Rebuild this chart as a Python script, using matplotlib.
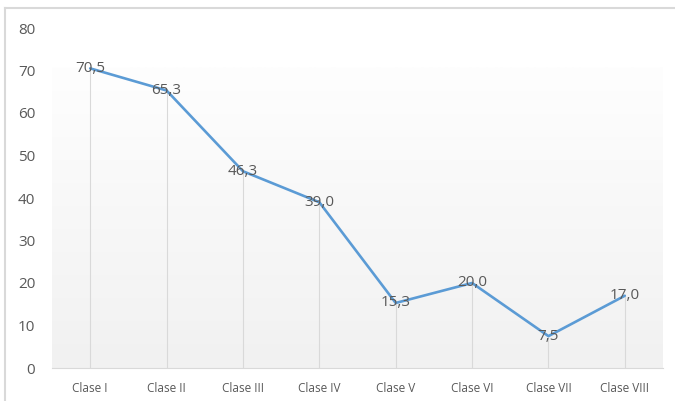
import matplotlib.pyplot as plt
import numpy as np
from matplotlib.colors import LinearSegmentedColormap

# Data
categories = ["Clase I", "Clase II", "Clase III", "Clase IV",
              "Clase V", "Clase VI", "Clase VII", "Clase VIII"]
values = [70.5, 65.3, 46.3, 39.0, 15.3, 20.0, 7.5, 17.0]
yticks = [0, 10, 20, 30, 40, 50, 60, 70, 80]

plt.rcParams["font.family"] = ["Open Sans", "DejaVu Sans"]

fig = plt.figure(figsize=(6.75, 4.01), dpi=100)
fig.patch.set_facecolor("white")
ax = fig.add_axes([52 / 675, 1 - 368 / 401, 611 / 675, 340 / 401])
ax.set_facecolor("none")

x = np.arange(len(categories))
ax.set_xlim(-0.5, len(categories) - 0.5)
ax.set_ylim(0, 80)

# plot area gradient (white top -> light grey bottom)
cmap = LinearSegmentedColormap.from_list("g", ["#f1f1f1", "#fefefe"])
grad = np.linspace(0, 1, 256).reshape(-1, 1)
ax.imshow(grad, cmap=cmap, aspect="auto", origin="lower",
          extent=(-0.5, len(categories) - 0.5, 0, 70.6), zorder=0)

# drop lines
ax.vlines(x, 0, values, color="#d9d9d9", linewidth=0.8, zorder=1)

# line
ax.plot(x, values, color="#5b9bd5", linewidth=1.9, zorder=3,
        solid_joinstyle="round", solid_capstyle="round")

# data labels
for xi, v in zip(x, values):
    ax.text(xi, v, f"{v:.1f}".replace(".", ","), ha="center", va="center",
            fontsize=11, color="#595959", zorder=4)

# axes formatting
ax.set_xticks(x)
ax.set_xticklabels(categories, fontsize=8.5, color="#595959")
ax.set_yticks(yticks)
ax.set_yticklabels([str(t) for t in yticks], fontsize=11, color="#595959")
ax.tick_params(axis="both", length=0)
ax.tick_params(axis="x", pad=10)
ax.tick_params(axis="y", pad=12)
for s in ["top", "right", "left"]:
    ax.spines[s].set_visible(False)
ax.spines["bottom"].set_color("#d9d9d9")
ax.spines["bottom"].set_linewidth(0.8)

# outer chart border (top and left)
fig.add_artist(plt.Line2D([5 / 675, 1], [1 - 8 / 401, 1 - 8 / 401],
                          color="#d9d9d9", linewidth=1.5))
fig.add_artist(plt.Line2D([5 / 675, 5 / 675], [0, 1 - 8 / 401],
                          color="#d9d9d9", linewidth=1.5))

plt.savefig("out.png", dpi=100)
